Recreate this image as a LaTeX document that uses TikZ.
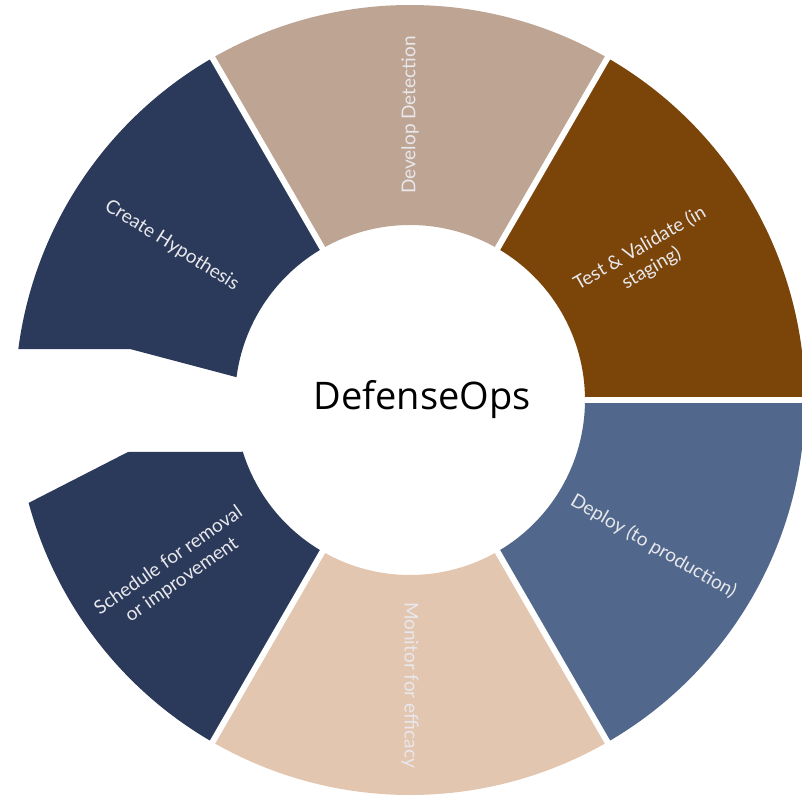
\documentclass[tikz,border=0pt]{standalone}
\usepackage{fontspec}
\setmainfont{Lato}
\newfontfamily\hubfont{Open Sans}
\usepackage{tikz}

\definecolor{devtan}{HTML}{BEA593}
\definecolor{testbrown}{HTML}{7B450A}
\definecolor{deployblue}{HTML}{51688C}
\definecolor{monitorpeach}{HTML}{E3C6B0}
\definecolor{navy}{HTML}{2B3A5A}
\definecolor{labelgray}{HTML}{E8E8EC}

\begin{document}
\begin{tikzpicture}[x=1pt, y=1pt,
    seg label/.style={text=labelgray, font=\fontsize{19}{23}\selectfont, align=center, inner sep=0pt},
    gap/.style={white, line width=6pt}]
    \useasboundingbox (-410,-395) rectangle (392,400);

    \fill [devtan] (60:175pt) -- (60:395pt) arc[start angle=60, end angle=120, radius=395pt]
        -- (120:175pt) arc[start angle=120, end angle=60, radius=175pt] -- cycle;
    \fill [testbrown] (0:175pt) -- (0:395pt) arc[start angle=0, end angle=60, radius=395pt]
        -- (60:175pt) arc[start angle=60, end angle=0, radius=175pt] -- cycle;
    \fill [deployblue] (-60:175pt) -- (-60:395pt) arc[start angle=-60, end angle=0, radius=395pt]
        -- (0:175pt) arc[start angle=0, end angle=-60, radius=175pt] -- cycle;
    \fill [monitorpeach] (-120:175pt) -- (-120:395pt) arc[start angle=-120, end angle=-60, radius=395pt]
        -- (-60:175pt) arc[start angle=-60, end angle=-120, radius=175pt] -- cycle;
    \fill [navy] (120:175pt) -- (120:395pt) arc[start angle=120, end angle=172.6, radius=395pt]
        -- (-280pt,51pt) -- (172.5:175pt) arc[start angle=172.5, end angle=120, radius=175pt] -- cycle;
    \fill [navy] (197.2:175pt) -- (-282pt,-52pt) -- (195.1:395pt) arc[start angle=195.1, end angle=240, radius=395pt]
        -- (240:175pt) arc[start angle=240, end angle=197.2, radius=175pt] -- cycle;

    \foreach \a in {0,60,120,240,300}
        \draw [gap] (\a:168pt) -- (\a:402pt);

    \node (hub) at (12pt,0pt) {\hubfont\fontsize{38}{44}\selectfont DefenseOps};

    \node [seg label, rotate=90] (develop) at (90:285pt) {Develop Detection};
    \node [seg label, rotate=30] (test) at (31:275pt) {Test \& Validate (in\\staging)};
    \node [seg label, rotate=-30] (deploy) at (-31:284pt) {Deploy (to production)};
    \node [seg label, rotate=-90] (monitor) at (-90:285pt) {Monitor for efficacy};
    \node [seg label, rotate=35] (schedule) at (216:290pt) {Schedule for removal\\or improvement};
    \node [seg label, rotate=-32] (create) at (147:284pt) {Create Hypothesis};
\end{tikzpicture}
\end{document}
